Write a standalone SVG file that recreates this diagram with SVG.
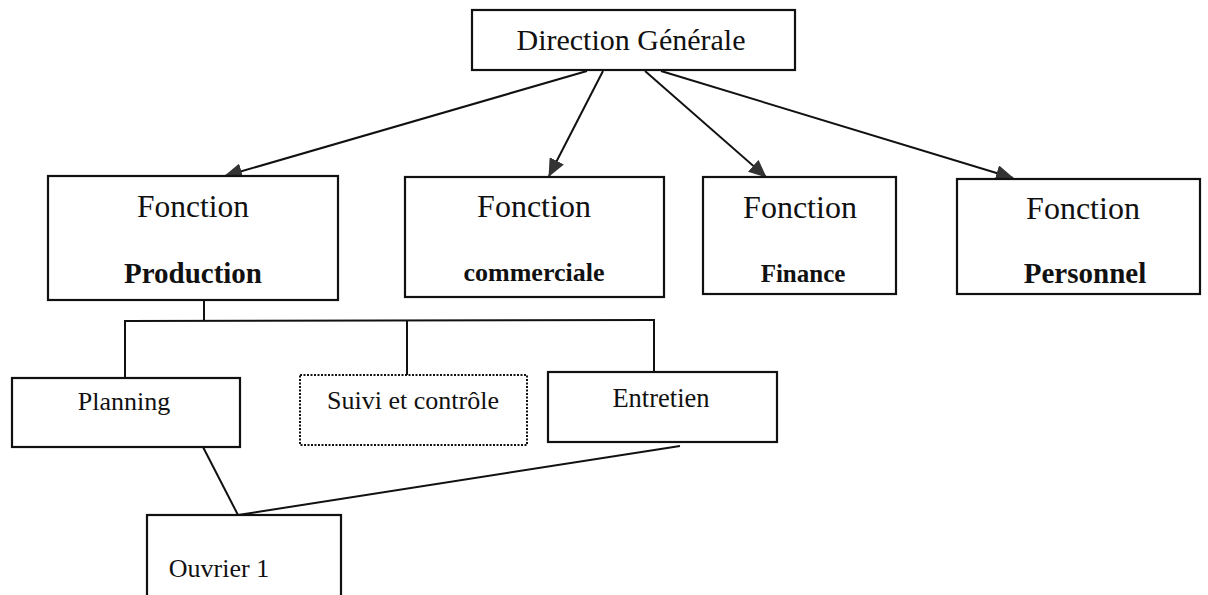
<svg xmlns="http://www.w3.org/2000/svg" width="1208" height="595" viewBox="0 0 1208 595">
  <style>
    .box { fill: #fff; stroke: #111; stroke-width: 2.2; }
    .dotted { fill: #fff; stroke: #111; stroke-width: 2; stroke-dasharray: 2 1.5; }
    .t { font-family: "Liberation Serif", "Times New Roman", serif; fill: #111; text-anchor: middle; }
    .b { font-weight: bold; }
    .ln { stroke: #111; stroke-width: 2; fill: none; }
  </style>
  <defs>
    <marker id="arrow" markerWidth="18" markerHeight="16" refX="17" refY="8" orient="auto" markerUnits="userSpaceOnUse">
      <path d="M0,0 L18,8 L0,16 Z" fill="#333"/>
    </marker>
  </defs>

  <rect width="1208" height="595" fill="#fff"/>

  <!-- connectors -->
  <g id="connectors">
    <line class="ln" x1="587" y1="71" x2="225" y2="176" marker-end="url(#arrow)"/>
    <line class="ln" x1="603" y1="71" x2="549" y2="176" marker-end="url(#arrow)"/>
    <line class="ln" x1="645" y1="71" x2="766" y2="177" marker-end="url(#arrow)"/>
    <line class="ln" x1="661" y1="71" x2="1013" y2="178" marker-end="url(#arrow)"/>
    <!-- production subtree bus -->
    <line class="ln" x1="204" y1="300" x2="204" y2="321"/>
    <line class="ln" x1="124" y1="321" x2="655" y2="320"/>
    <line class="ln" x1="125" y1="321" x2="125" y2="378"/>
    <line class="ln" x1="407" y1="321" x2="407" y2="375"/>
    <line class="ln" x1="654" y1="320" x2="654" y2="372"/>
    <!-- links to Ouvrier 1 -->
    <line class="ln" x1="203" y1="447" x2="238" y2="515"/>
    <line class="ln" x1="680" y1="446" x2="238" y2="515"/>
  </g>

  <g id="direction-generale">
    <rect class="box" x="472" y="10" width="323" height="60"/>
    <text class="t" x="631" y="50" font-size="30">Direction Générale</text>
  </g>

  <g id="fonction-production">
    <rect class="box" x="48" y="176" width="290" height="124"/>
    <text class="t" x="193" y="217" font-size="31.5">Fonction</text>
    <text class="t b" x="193" y="283" font-size="29">Production</text>
  </g>

  <g id="fonction-commerciale">
    <rect class="box" x="405" y="177" width="259" height="120"/>
    <text class="t" x="534" y="217" font-size="32">Fonction</text>
    <text class="t b" x="534" y="281" font-size="26">commerciale</text>
  </g>

  <g id="fonction-finance">
    <rect class="box" x="703" y="177" width="193" height="117"/>
    <text class="t" x="800" y="218" font-size="32">Fonction</text>
    <text class="t b" x="803" y="282" font-size="25">Finance</text>
  </g>

  <g id="fonction-personnel">
    <rect class="box" x="957" y="179" width="243" height="115"/>
    <text class="t" x="1083" y="219" font-size="32">Fonction</text>
    <text class="t b" x="1085" y="283" font-size="29">Personnel</text>
  </g>

  <g id="planning">
    <rect class="box" x="12" y="378" width="228" height="69"/>
    <text class="t" x="124" y="410" font-size="26">Planning</text>
  </g>

  <g id="suivi-controle">
    <rect class="dotted" x="300" y="375" width="227" height="70"/>
    <text class="t" x="413" y="409" font-size="26">Suivi et contrôle</text>
  </g>

  <g id="entretien">
    <rect class="box" x="548" y="372" width="229" height="70"/>
    <text class="t" x="661" y="407" font-size="26.5">Entretien</text>
  </g>

  <g id="ouvrier-1">
    <rect class="box" x="147" y="515" width="194" height="90"/>
    <text class="t" x="219" y="577" font-size="26">Ouvrier 1</text>
  </g>
</svg>
